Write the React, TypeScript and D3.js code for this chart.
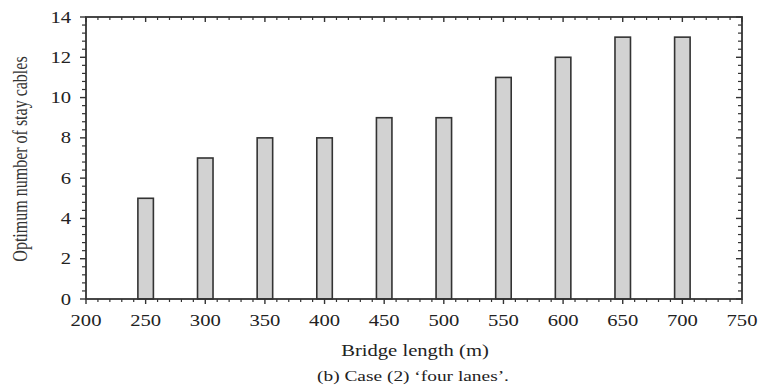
import React from "react";
import * as d3 from "d3";

// bridge length (m) vs optimum number of stay cables, case (2) four lanes
const lengths = [250, 300, 350, 400, 450, 500, 550, 600, 650, 700];
const cables = [5, 7, 8, 8, 9, 9, 11, 12, 13, 13];
const xTicks = [200, 250, 300, 350, 400, 450, 500, 550, 600, 650, 700, 750];
const yTicks = [0, 2, 4, 6, 8, 10, 12, 14];

const W = 761;
const H = 389;
const margin = { top: 17, right: 19, bottom: 90, left: 86 };
const font = "Liberation Serif, Times New Roman, DejaVu Serif, serif";
// the scanned figure is stretched sideways a bit
const sx = 1.25;

export default function App() {
  const x = d3.scaleLinear().domain([200, 750]).range([margin.left, W - margin.right]);
  const y = d3.scaleLinear().domain([0, 14]).range([H - margin.bottom, margin.top]);
  const x0 = x(200), x1 = x(750), y0 = y(0), y1 = y(14);
  const barW = x(213) - x(200);

  const xMinor = d3.range(200, 751, 10).filter((v) => v % 50 !== 0);
  const yMinor = d3.range(0, 14.01, 0.4).filter((v) => Math.abs(v / 2 - Math.round(v / 2)) > 0.01);

  const stroke = "#333";
  const txt = { fontFamily: font };

  return (
    <svg width={W} height={H} style={{ position: "absolute", left: 0, top: 0, background: "#fff" }}>
      {/* bars */}
      {lengths.map((l, i) => (
        <rect
          key={l}
          x={x(l) - barW / 2}
          y={y(cables[i])}
          width={barW}
          height={y0 - y(cables[i])}
          fill="#d2d2d2"
          stroke={stroke}
          strokeWidth={1.6}
        />
      ))}

      {/* x ticks: bottom outward, top mirrored pointing down */}
      {xTicks.map((v) => (
        <g key={"xt" + v}>
          <line x1={x(v)} x2={x(v)} y1={y0} y2={y0 + 5} stroke={stroke} strokeWidth={1.4} />
          <line x1={x(v)} x2={x(v)} y1={y1} y2={y1 + 5} stroke={stroke} strokeWidth={1.4} />
          <text
            transform={`translate(${x(v)},${y0 + 27}) scale(${sx},1)`}
            textAnchor="middle"
            style={txt}
            fontSize={16.5}
            fill="#222"
          >
            {v}
          </text>
        </g>
      ))}
      {xMinor.map((v) => (
        <g key={"xm" + v}>
          <line x1={x(v)} x2={x(v)} y1={y0} y2={y0 + 3} stroke={stroke} strokeWidth={1.2} />
          <line x1={x(v)} x2={x(v)} y1={y1} y2={y1 + 3} stroke={stroke} strokeWidth={1.2} />
        </g>
      ))}

      {/* y ticks: left outward, right mirrored pointing left */}
      {yTicks.map((v) => (
        <g key={"yt" + v}>
          <line x1={x0 - 6} x2={x0} y1={y(v)} y2={y(v)} stroke={stroke} strokeWidth={1.4} />
          <line x1={x1 - 6} x2={x1} y1={y(v)} y2={y(v)} stroke={stroke} strokeWidth={1.4} />
          <text
            transform={`translate(${x0 - 15},${y(v) + 5.5}) scale(${sx},1)`}
            textAnchor="end"
            style={txt}
            fontSize={16.5}
            fill="#222"
          >
            {v}
          </text>
        </g>
      ))}
      {yMinor.map((v) => (
        <g key={"ym" + v}>
          <line x1={x0 - 4} x2={x0} y1={y(v)} y2={y(v)} stroke={stroke} strokeWidth={1.2} />
          <line x1={x1 - 4} x2={x1} y1={y(v)} y2={y(v)} stroke={stroke} strokeWidth={1.2} />
        </g>
      ))}

      {/* frame */}
      <rect x={x0} y={y1} width={x1 - x0} height={y0 - y1} fill="none" stroke={stroke} strokeWidth={1.8} />

      {/* labels */}
      <text
        transform={`translate(27,${(y0 + y1) / 2 + 1}) scale(${sx},1) rotate(-90)`}
        textAnchor="middle"
        style={txt}
        fontSize={16}
        fill="#333"
      >
        Optimum number of stay cables
      </text>
      <text
        transform={`translate(415,356) scale(${sx},1)`}
        textAnchor="middle"
        style={txt}
        fontSize={16.5}
        fill="#222"
      >
        Bridge length (m)
      </text>
      <text
        transform={`translate(413,381) scale(${sx},1)`}
        textAnchor="middle"
        style={txt}
        fontSize={15.5}
        fill="#222"
      >
        (b) Case (2) ‘four lanes’.
      </text>
    </svg>
  );
}
